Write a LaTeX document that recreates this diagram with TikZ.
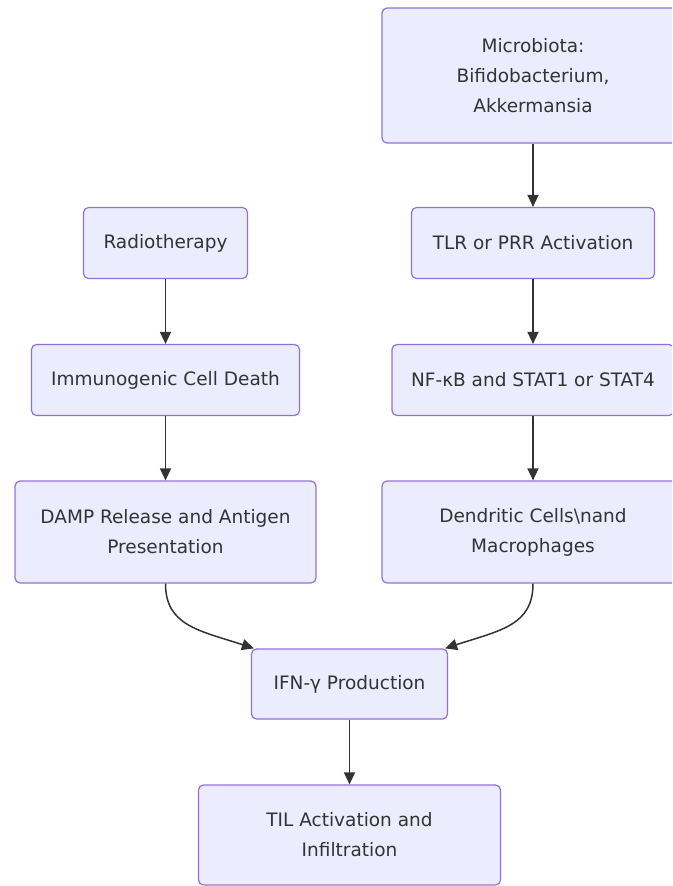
\documentclass[tikz,border=0pt]{standalone}
\usepackage{fontspec}
\setmainfont{DejaVu Sans}
\usepackage{tikz}
\usetikzlibrary{arrows.meta}
\definecolor{boxfill}{HTML}{ECECFF}
\definecolor{boxline}{HTML}{9370DB}
\definecolor{ink}{HTML}{333333}

\begin{document}
\begin{tikzpicture}[x=1pt,y=-1pt]
    \tikzset{box/.style = {shape=rectangle,draw=boxline,fill=boxfill,line width=1.2pt,rounded corners=5pt,align=center,text=ink,inner sep=0pt,font=\fontsize{18.5}{30}\selectfont}}
    \tikzset{edge/.style = {-{Triangle[length=12pt,width=11pt]},draw=ink,fill=ink,line width=1.5pt}}
    \useasboundingbox (0,0) rectangle (672,886);
    \clip (0,0) rectangle (672,886);
    % vertices
    \node[box,minimum width=302pt,minimum height=135pt] (micro) at (533,75.5) {Microbiota:\\Bifidobacterium,\\Akkermansia};
    \node[box,minimum width=243pt,minimum height=71pt] (tlr) at (533,243) {TLR or PRR Activation};
    \node[box,minimum width=282pt,minimum height=71pt] (nfkb) at (533,380) {NF-κB and STAT1 or STAT4};
    \node[box,minimum width=302pt,minimum height=102pt] (dc) at (533,532) {Dendritic Cells\textbackslash nand\\Macrophages};
    \node[box,minimum width=164pt,minimum height=71pt] (radio) at (165.5,243) {Radiotherapy};
    \node[box,minimum width=268pt,minimum height=71pt] (icd) at (165.5,380) {Immunogenic Cell Death};
    \node[box,minimum width=301pt,minimum height=102pt] (damp) at (165.5,532) {DAMP Release and Antigen\\Presentation};
    \node[box,minimum width=196pt,minimum height=70pt] (ifn) at (349.5,684) {IFN-γ Production};
    \node[box,minimum width=302pt,minimum height=100pt] (til) at (349.5,835) {TIL Activation and\\Infiltration};
    %edges
    \draw[edge] (micro) to (tlr);
    \draw[edge] (tlr) to (nfkb);
    \draw[edge] (nfkb) to (dc);
    \draw[edge] (radio) to (icd);
    \draw[edge] (icd) to (damp);
    \draw[edge,fill=none] (damp.south) .. controls +(0,42) and +(-55,-18) .. ([xshift=3pt]ifn.north west);
    \draw[edge,fill=none] (dc.south) .. controls +(0,42) and +(55,-18) .. ([xshift=-3pt]ifn.north east);
    \draw[edge] (ifn) to (til);
\end{tikzpicture}
\end{document}
